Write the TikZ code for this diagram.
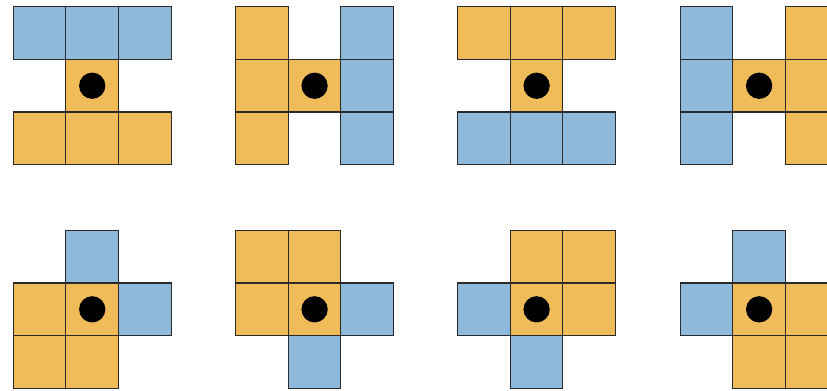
\documentclass[tikz,border=0pt]{standalone}
\usepackage{xcolor}
\usepackage{tikz}
\definecolor{tileorange}{HTML}{F0BC5A}
\definecolor{tileblue}{HTML}{8FB9DB}
\definecolor{edge}{HTML}{2A2A2A}
\tikzset{
  sqo/.style={fill=tileorange},
  sqb/.style={fill=tileblue},
  sqline/.style={draw=edge,line width=0.6pt},
  pin/.style={fill=black},
}
% #1,#2 lower left of the 3x3 grid, #3 orange cells, #4 blue cells (col/row)
\newcommand{\tileset}[4]{%
  \begin{scope}[shift={(#1,#2)}]
    \foreach \c/\r in {#3} {\fill[sqo] (\c,\r) rectangle ++(1,1);}
    \foreach \c/\r in {#4} {\fill[sqb] (\c,\r) rectangle ++(1,1);}
    \foreach \c/\r in {#3,#4} {\draw[sqline] (\c,\r) rectangle ++(1,1);}
    \fill[pin] (1.5,1.5) circle (0.25);
  \end{scope}
}
\begin{document}
\begin{tikzpicture}[x=1cm,y=1cm]
  \useasboundingbox (0,0) rectangle (15.72,7.43);
  % top row
  \tileset{0.253}{4.3}{0/0,1/0,2/0,1/1}{0/2,1/2,2/2}
  \tileset{4.48}{4.3}{0/0,0/1,0/2,1/1}{2/0,2/1,2/2}
  \tileset{8.70}{4.3}{0/2,1/2,2/2,1/1}{0/0,1/0,2/0}
  \tileset{12.93}{4.3}{2/0,2/1,2/2,1/1}{0/0,0/1,0/2}
  % bottom row
  \tileset{0.253}{0.05}{0/0,1/0,0/1,1/1}{1/2,2/1}
  \tileset{4.48}{0.05}{0/2,1/2,0/1,1/1}{2/1,1/0}
  \tileset{8.70}{0.05}{1/2,2/2,2/1,1/1}{0/1,1/0}
  \tileset{12.93}{0.05}{1/0,2/0,2/1,1/1}{0/1,1/2}
\end{tikzpicture}
\end{document}
